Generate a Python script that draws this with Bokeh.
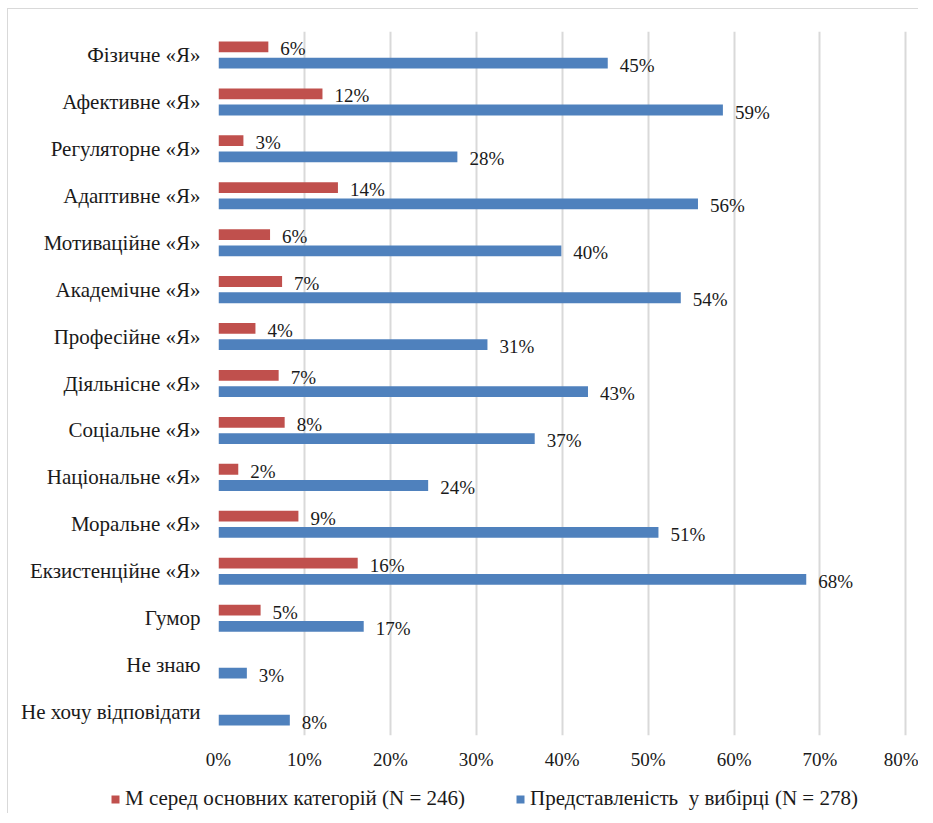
from bokeh.plotting import figure
from bokeh.layouts import column
from bokeh.models import FixedTicker, Legend, LegendItem, ColumnDataSource
from bokeh.transform import dodge
from bokeh.embed import file_html
from bokeh.resources import INLINE

categories = ["Фізичне «Я»", "Афективне «Я»", "Регуляторне «Я»", "Адаптивне «Я»",
              "Мотиваційне «Я»", "Академічне «Я»", "Професійне «Я»", "Діяльнісне «Я»",
              "Соціальне «Я»", "Національне «Я»", "Моральне «Я»", "Екзистенційне «Я»",
              "Гумор", "Не знаю", "Не хочу відповідати"]
red_categories = categories[:13]
red_values = [5.8, 12.1, 2.9, 13.9, 6.0, 7.4, 4.3, 7.0, 7.7, 2.3, 9.3, 16.2, 4.9]
red_labels = ["6%", "12%", "3%", "14%", "6%", "7%", "4%", "7%", "8%", "2%", "9%", "16%", "5%"]
blue_values = [45.3, 58.7, 27.8, 55.8, 39.9, 53.8, 31.3, 43.0, 36.8, 24.4, 51.2, 68.4, 16.9, 3.3, 8.3]
blue_labels = ["45%", "59%", "28%", "56%", "40%", "54%", "31%", "43%", "37%", "24%", "51%", "68%", "17%", "3%", "8%"]
x_ticks = [0, 10, 20, 30, 40, 50, 60, 70, 80]
x_tick_labels = ["0%", "10%", "20%", "30%", "40%", "50%", "60%", "70%", "80%"]
red_name = "М серед основних категорій (N = 246)"
blue_name = "Представленість  у вибірці (N = 278)"

RED = "#C0504D"
BLUE = "#4F81BD"
FONT = "Liberation Serif"
TXT = "#1a1a1a"

p = figure(width=910, height=766, y_range=list(reversed(categories)), x_range=(0, 80.3),
           output_backend="svg", toolbar_location=None,
           min_border_left=210, min_border_right=10, min_border_top=22, min_border_bottom=40)
p.outline_line_color = None

red_src = ColumnDataSource(dict(cat=red_categories, val=red_values, lab=red_labels))
blue_src = ColumnDataSource(dict(cat=categories, val=blue_values, lab=blue_labels))

p.hbar(y=dodge("cat", 0.173, range=p.y_range), left=0, right="val", height=0.23,
       source=red_src, fill_color=RED, line_color=None)
p.hbar(y=dodge("cat", -0.173, range=p.y_range), left=0, right="val", height=0.23,
       source=blue_src, fill_color=BLUE, line_color=None)

p.text(x="val", y=dodge("cat", 0.173, range=p.y_range), text="lab", source=red_src,
       x_offset=12, y_offset=2, text_baseline="middle", text_align="left",
       text_font={"value": FONT}, text_font_size="19px", text_color=TXT)
p.text(x="val", y=dodge("cat", -0.173, range=p.y_range), text="lab", source=blue_src,
       x_offset=12, y_offset=2, text_baseline="middle", text_align="left",
       text_font={"value": FONT}, text_font_size="19px", text_color=TXT)

p.xaxis.ticker = FixedTicker(ticks=x_ticks)
p.xaxis.major_label_overrides = {t: l for t, l in zip(x_ticks, x_tick_labels)}
p.xaxis.axis_line_color = None
p.xaxis.major_tick_line_color = None
p.xaxis.minor_tick_line_color = None
p.xaxis.major_label_standoff = 7
p.xaxis.major_label_text_font = FONT
p.xaxis.major_label_text_font_size = "19px"
p.xaxis.major_label_text_color = TXT

p.yaxis.axis_line_color = None
p.yaxis.major_tick_line_color = None
p.yaxis.minor_tick_line_color = None
p.yaxis.major_label_standoff = 12
p.yaxis.major_label_text_font = FONT
p.yaxis.major_label_text_font_size = "21px"
p.yaxis.major_label_text_color = TXT

p.ygrid.grid_line_color = None
p.xgrid.grid_line_color = "#d9d9d9"
p.xgrid.grid_line_width = 2

# legend strip below the chart (bars fall outside its visible x range; only the legend shows)
lf = figure(width=910, height=38, x_range=(-2, -1), y_range=list(reversed(categories)),
            output_backend="svg", toolbar_location=None,
            min_border_left=0, min_border_right=0, min_border_top=0, min_border_bottom=0)
try:
    lf.frame_align = False
except Exception:
    pass
lf.axis.visible = False
lf.grid.visible = False
lf.outline_line_color = None
lr = lf.hbar(y="cat", left=0, right="val", height=0.5, source=red_src, fill_color=RED, line_color=None)
lb = lf.hbar(y="cat", left=0, right="val", height=0.5, source=blue_src, fill_color=BLUE, line_color=None)
legend = Legend(items=[LegendItem(label=red_name, renderers=[lr]),
                       LegendItem(label=blue_name, renderers=[lb])],
                orientation="horizontal", location=(102, 2),
                padding=0, margin=0, spacing=50, glyph_width=10, glyph_height=10,
                label_standoff=5, border_line_color=None, background_fill_alpha=0,
                label_text_font=FONT, label_text_font_size="21px", label_text_color=TXT)
lf.add_layout(legend, "center")

layout = column(p, lf, spacing=0)
layout.styles = {"border-top": "1px solid #d9d9d9", "border-left": "1px solid #d9d9d9",
                 "margin-left": "7px", "margin-top": "8px"}

open("out.html", "w").write(file_html(layout, INLINE))
